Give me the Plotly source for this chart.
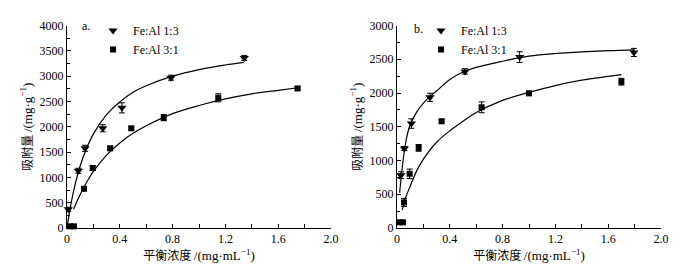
import plotly.graph_objects as go

# ---------- Panel a data ----------
a13_x = [0.01, 0.086, 0.137, 0.271, 0.416, 0.788, 1.343]
a13_y = [370, 1130, 1574, 1970, 2373, 2969, 3359]
a13_e = [40, 50, 60, 70, 100, 50, 50]
a31_x = [0.023, 0.053, 0.129, 0.195, 0.327, 0.487, 0.733, 1.146, 1.747]
a31_y = [33, 33, 774, 1185, 1574, 1970, 2180, 2572, 2757]
a31_e = [20, 20, 30, 50, 40, 30, 60, 80, 30]
a13_fit_x = [0.0, 0.02, 0.05, 0.1, 0.15, 0.2, 0.3, 0.4, 0.5, 0.6, 0.8, 1.0, 1.2, 1.34]
a13_fit_y = [0, 330, 730, 1230, 1580, 1860, 2240, 2490, 2680, 2810, 3000, 3130, 3220, 3270]
a31_fit_x = [0.05, 0.1, 0.15, 0.2, 0.3, 0.4, 0.5, 0.6, 0.8, 1.0, 1.2, 1.4, 1.6, 1.75]
a31_fit_y = [370, 660, 910, 1120, 1440, 1680, 1870, 2020, 2260, 2420, 2550, 2650, 2720, 2770]

# ---------- Panel b data ----------
b13_x = [0.03, 0.056, 0.109, 0.25, 0.515, 0.929, 1.795]
b13_y = [783, 1177, 1547, 1936, 2320, 2532, 2601]
b13_e = [50, 30, 70, 60, 40, 80, 60]
b31_x = [0.02, 0.045, 0.053, 0.096, 0.164, 0.338, 0.641, 1.0, 1.7]
b31_y = [84, 84, 379, 803, 1187, 1581, 1788, 1995, 2167]
b31_e = [20, 20, 60, 70, 50, 30, 80, 30, 50]
b13_fit_x = [0.02, 0.04, 0.06, 0.08, 0.1, 0.15, 0.2, 0.25, 0.3, 0.4, 0.5, 0.6, 0.8, 1.0, 1.2, 1.4, 1.6, 1.8]
b13_fit_y = [520, 900, 1200, 1400, 1530, 1720, 1850, 1950, 2030, 2200, 2310, 2380, 2470, 2545, 2585, 2610, 2628, 2640]
b31_fit_x = [0.04, 0.06, 0.1, 0.15, 0.2, 0.3, 0.4, 0.5, 0.6, 0.8, 1.0, 1.2, 1.4, 1.6, 1.7]
b31_fit_y = [270, 420, 620, 850, 1020, 1270, 1440, 1580, 1710, 1890, 2010, 2110, 2190, 2245, 2271]

x_ticks = [0, 0.4, 0.8, 1.2, 1.6, 2.0]
x_tick_labels = ["0", "0.4", "0.8", "1.2", "1.6", "2.0"]
series_names = ["Fe:Al 1:3", "Fe:Al 3:1"]
panel_labels = ["a.", "b."]

FONT = "Liberation Serif"
CJK = "Noto Sans CJK SC"
SER = "<span style='font-family:Liberation Serif;font-size:13px'>"
x_title = "平衡浓度 " + SER + "/(mg·mL<sup>−1</sup>)</span>"
y_title = "吸附量 " + SER + "/(mg·g<sup>−1</sup>)</span>"

fig = go.Figure()

def add_panel(xa, ya, legend, d13, d31, f13, f31):
    fig.add_trace(go.Scatter(x=f13[0], y=f13[1], mode="lines", line=dict(color="black", width=1.2, shape="spline"),
                             xaxis=xa, yaxis=ya, showlegend=False, hoverinfo="skip"))
    fig.add_trace(go.Scatter(x=f31[0], y=f31[1], mode="lines", line=dict(color="black", width=1.2, shape="spline"),
                             xaxis=xa, yaxis=ya, showlegend=False, hoverinfo="skip"))
    fig.add_trace(go.Scatter(x=d13[0], y=d13[1], mode="markers", name=series_names[0],
                             marker=dict(symbol="triangle-down", size=8, color="black"),
                             error_y=dict(type="data", array=d13[2], color="black", thickness=1, width=3),
                             xaxis=xa, yaxis=ya, legend=legend, cliponaxis=False))
    fig.add_trace(go.Scatter(x=d31[0], y=d31[1], mode="markers", name=series_names[1],
                             marker=dict(symbol="square", size=6, color="black"),
                             error_y=dict(type="data", array=d31[2], color="black", thickness=1, width=3),
                             xaxis=xa, yaxis=ya, legend=legend, cliponaxis=False))

add_panel("x", "y", "legend", (a13_x, a13_y, a13_e), (a31_x, a31_y, a31_e),
          (a13_fit_x, a13_fit_y), (a31_fit_x, a31_fit_y))
add_panel("x2", "y2", "legend2", (b13_x, b13_y, b13_e), (b31_x, b31_y, b31_e),
          (b13_fit_x, b13_fit_y), (b31_fit_x, b31_fit_y))

W, H = 682, 267
ydom = [1 - 228 / H, 1 - 25.5 / H]

def xaxis(dom, anchor):
    return dict(domain=dom, anchor=anchor, range=[0, 2.0], tickvals=x_ticks, ticktext=x_tick_labels,
                automargin=False,
                showline=True, linecolor="black", linewidth=1, ticks="inside", ticklen=4, tickcolor="black",
                minor=dict(dtick=0.2, ticks="inside", ticklen=4, tickcolor="black"),
                showgrid=False, zeroline=False, mirror=False,
                tickfont=dict(family=FONT, size=12, color="black"),
                title=dict(text=x_title, font=dict(family=CJK, size=12, color="black"), standoff=3))

def yaxis(dom, anchor, top, dtick):
    return dict(domain=dom, anchor=anchor, range=[0, top], dtick=dtick, automargin=False,
                showline=True, linecolor="black", linewidth=1, ticks="inside", ticklen=4, tickcolor="black",
                minor=dict(dtick=dtick / 2, ticks="inside", ticklen=3, tickcolor="black"),
                showgrid=False, zeroline=False,
                tickfont=dict(family=FONT, size=12, color="black"),
                title=dict(text=y_title, font=dict(family=CJK, size=12, color="black"), standoff=4))

fig.update_layout(
    width=W, height=H, margin=dict(l=0, r=0, t=0, b=0, autoexpand=False),
    paper_bgcolor="white", plot_bgcolor="white",
    xaxis=xaxis([67 / W, 331 / W], "y"),
    yaxis=yaxis(ydom, "x", 4000, 500),
    xaxis2=xaxis([397 / W, 661 / W], "y2"),
    yaxis2=yaxis(ydom, "x2", 3000, 500),
    legend=dict(x=93 / W, y=1 - 16 / H, xanchor="left", yanchor="top", bgcolor="rgba(0,0,0,0)",
                font=dict(family=FONT, size=12, color="black"), itemwidth=30, tracegroupgap=0),
    legend2=dict(x=421 / W, y=1 - 16 / H, xanchor="left", yanchor="top", bgcolor="rgba(0,0,0,0)",
                 font=dict(family=FONT, size=12, color="black"), itemwidth=30, tracegroupgap=0),
    showlegend=True,
    annotations=[
        dict(text=panel_labels[0], x=80 / W, y=1 - 26 / H, xref="paper", yref="paper", showarrow=False,
             xanchor="left", yanchor="middle", font=dict(family=FONT, size=12, color="black")),
        dict(text=panel_labels[1], x=412 / W, y=1 - 29 / H, xref="paper", yref="paper", showarrow=False,
             xanchor="left", yanchor="middle", font=dict(family=FONT, size=12, color="black")),
    ],
)

fig.write_html("out.html", config={"displayModeBar": False},
               post_script="document.body.style.margin='0';document.body.style.overflow='hidden';")
